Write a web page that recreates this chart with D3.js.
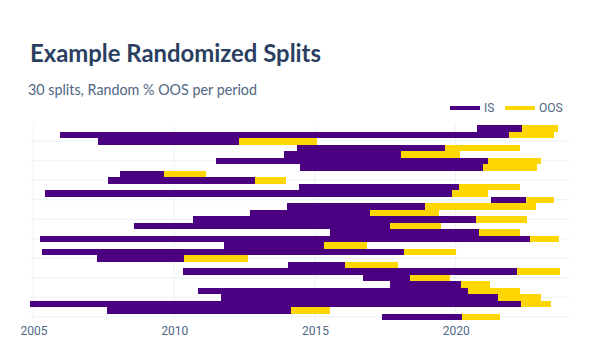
<!DOCTYPE html>
<html>
<head>
<meta charset="utf-8">
<script src="https://cdn.jsdelivr.net/npm/d3@7"></script>
<style>
  body { margin: 0; background: #fff; }
  svg { display: block; }
</style>
</head>
<body>
<svg id="chart"></svg>
<script>
// one row per split, top to bottom: IS start, OOS start (= IS end), OOS end
const isStart = [
  '2020-10-04', '2005-12-13', '2007-04-19', '2014-05-14', '2013-11-25',
  '2011-06-28', '2014-06-21', '2008-01-29', '2007-08-27', '2014-06-08',
  '2005-06-01', '2021-04-03', '2014-01-04', '2012-09-11', '2010-09-03',
  '2008-07-30', '2015-07-15', '2005-03-28', '2011-10-09', '2005-04-23',
  '2007-04-06', '2014-01-17', '2010-04-26', '2016-09-16', '2017-09-01',
  '2010-11-07', '2011-08-31', '2004-11-18', '2007-08-14', '2017-05-20'
];
const oosStart = [
  '2022-05-10', '2021-11-22', '2012-04-21', '2019-08-14', '2018-01-22',
  '2021-02-23', '2020-12-20', '2009-08-22', '2012-11-14', '2020-02-13',
  '2019-11-13', '2022-07-01', '2018-11-28', '2016-12-15', '2020-09-21',
  '2017-09-01', '2020-10-30', '2022-08-22', '2015-04-28', '2018-03-01',
  '2010-05-09', '2016-01-26', '2022-03-06', '2018-05-18', '2020-03-10',
  '2020-06-09', '2021-07-02', '2022-04-27', '2014-02-25', '2020-03-23'
];
const oosEnd = [
  '2023-08-19', '2023-06-28', '2015-01-28', '2022-04-14', '2020-02-25',
  '2023-01-11', '2022-11-20', '2011-02-18', '2013-12-21', '2022-04-14',
  '2021-02-23', '2023-06-28', '2022-11-07', '2019-05-29', '2022-07-14',
  '2019-06-24', '2022-04-14', '2023-09-01', '2016-11-06', '2020-01-05',
  '2012-08-16', '2017-12-13', '2023-09-14', '2019-10-18', '2021-03-21',
  '2022-04-14', '2023-01-11', '2023-05-20', '2015-07-15', '2021-07-28'
];
const tickYears = [2005, 2010, 2015, 2020];
const seriesNames = ['IS', 'OOS'];
const colors = {IS: '#4b0082', OOS: '#ffd700'};

const width = 600, height = 350;
const margin = {top: 125, right: 30, bottom: 30, left: 30};
const parse = d3.timeParse('%Y-%m-%d');

const rows = isStart.map((d, i) => ({
  split: i,
  start: parse(d),
  mid: parse(oosStart[i]),
  end: parse(oosEnd[i])
}));

const svg = d3.select('#chart')
  .attr('width', width)
  .attr('height', height);

const x = d3.scaleTime()
  .domain([parse('2004-11-18'), parse('2024-01-22')])
  .range([margin.left, width - margin.right]);

const y = d3.scaleBand()
  .domain(d3.range(rows.length))
  .range([margin.top, height - margin.bottom])
  .padding(0);

// grid
const grid = svg.append('g');
grid.selectAll('.vgrid')
  .data(tickYears)
  .join('line')
  .attr('x1', d => x(new Date(d, 0, 1)))
  .attr('x2', d => x(new Date(d, 0, 1)))
  .attr('y1', margin.top)
  .attr('y2', height - margin.bottom)
  .attr('stroke', '#ebf0f8')
  .attr('stroke-width', 1);

grid.selectAll('.hgrid')
  .data(d3.range(rows.length).filter(i => (rows.length - 1 - i) % 3 === 0))
  .join('line')
  .attr('x1', margin.left)
  .attr('x2', width - margin.right)
  .attr('y1', d => y(d) + y.bandwidth() / 2)
  .attr('y2', d => y(d) + y.bandwidth() / 2)
  .attr('stroke', '#ebf0f8')
  .attr('stroke-width', 1);

// bars
const bars = svg.append('g').attr('shape-rendering', 'crispEdges');
bars.selectAll('.is')
  .data(rows)
  .join('rect')
  .attr('class', 'is')
  .attr('x', d => x(d.start))
  .attr('width', d => x(d.mid) - x(d.start))
  .attr('y', d => y(d.split))
  .attr('height', y.bandwidth())
  .attr('fill', colors.IS);

bars.selectAll('.oos')
  .data(rows)
  .join('rect')
  .attr('class', 'oos')
  .attr('x', d => x(d.mid))
  .attr('width', d => x(d.end) - x(d.mid))
  .attr('y', d => y(d.split))
  .attr('height', y.bandwidth())
  .attr('fill', colors.OOS);

// x axis
const xAxis = d3.axisBottom(x)
  .tickValues(tickYears.map(d => new Date(d, 0, 1)))
  .tickFormat(d3.timeFormat('%Y'))
  .tickSize(0)
  .tickPadding(6);

const xAxisGroup = svg.append('g')
  .attr('transform', `translate(0,${height - margin.bottom})`)
  .call(xAxis);
xAxisGroup.select('.domain').remove();
xAxisGroup.selectAll('text')
  .attr('fill', '#506784')
  .style('font-family', 'Roboto, sans-serif')
  .style('font-size', '12px');

// title
svg.append('text')
  .attr('x', 30)
  .attr('y', 62)
  .attr('fill', '#2a3f5f')
  .style('font-family', 'Lato, sans-serif')
  .style('font-weight', 700)
  .style('font-size', '25px')
  .attr('textLength', 291)
  .attr('lengthAdjust', 'spacingAndGlyphs')
  .text('Example Randomized Splits');

svg.append('text')
  .attr('x', 28)
  .attr('y', 95)
  .attr('fill', '#506784')
  .style('font-family', 'Lato, sans-serif')
  .style('font-weight', 400)
  .style('font-size', '16px')
  .attr('textLength', 229)
  .attr('lengthAdjust', 'spacingAndGlyphs')
  .text('30 splits, Random % OOS per period');

// legend
const legend = svg.append('g')
  .attr('transform', 'translate(450,108)');
const legendX = [0, 55];
const item = legend.selectAll('g')
  .data(seriesNames)
  .join('g')
  .attr('transform', (d, i) => `translate(${legendX[i]},0)`);
item.append('line')
  .attr('x1', 0)
  .attr('x2', 30)
  .attr('stroke', d => colors[d])
  .attr('stroke-width', 4);
item.append('text')
  .attr('x', 34)
  .attr('dy', '0.35em')
  .attr('fill', '#506784')
  .style('font-family', 'Roboto, sans-serif')
  .style('font-size', '12px')
  .text(d => d);
</script>
</body>
</html>
